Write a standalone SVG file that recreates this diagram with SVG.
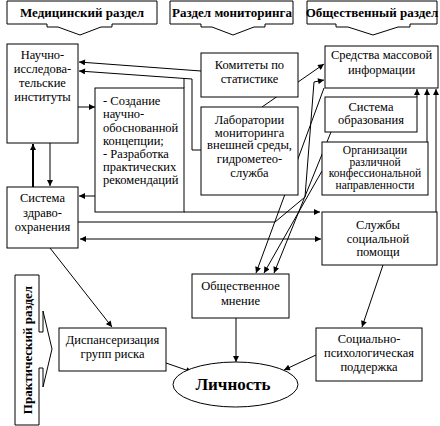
<svg xmlns="http://www.w3.org/2000/svg" width="440" height="426" viewBox="0 0 440 426" font-family="Liberation Serif, DejaVu Serif, serif">
<defs>
<style>
.b{fill:#fff;stroke:#000;stroke-width:1}
.t{font-family:"Liberation Serif",serif;font-size:12.5px;fill:#000;text-anchor:middle}
.s{font-size:11.5px}
.tl{font-family:"Liberation Serif",serif;font-size:12.5px;fill:#000}
.h{font-family:"Liberation Serif",serif;font-size:13px;font-weight:bold;fill:#000;text-anchor:middle}
.c{fill:none;stroke:#000;stroke-width:1;marker-end:url(#a)}
.n{fill:none;stroke:#000;stroke-width:1}
</style>
<marker id="a" viewBox="0 0 10 10" refX="10" refY="5" markerWidth="7" markerHeight="6" markerUnits="userSpaceOnUse" orient="auto-start-reverse">
<path d="M0,0 L10,5 L0,10 Z" fill="#000"/>
</marker>
</defs>
<rect width="440" height="426" fill="#fff"/>

<g id="hdr-med">
<path class="b" d="M7,1 H157 V24 H112 V27 H101 L80,35 L58,27 H47 V24 H7 Z"/>
<text class="h" x="82" y="17">Медицинский раздел</text>
</g>
<g id="hdr-mon">
<path class="b" d="M170,1 H293 V24 H265 V27 H254 L233,35 L212,27 H201 V24 H170 Z"/>
<text class="h" x="232" y="17">Раздел мониторинга</text>
</g>
<g id="hdr-soc">
<path class="b" d="M307,1 H437 V24 H410 V27 H398 L373,35 L348,27 H336 V24 H307 Z"/>
<text class="h" x="372" y="17">Общественный раздел</text>
</g>
<g id="hdr-prac">
<path class="b" d="M15,275 H39 V332 H43 V311 L52,349 L43,387 V368 H39 V425 H15 Z"/>
<text class="h" transform="translate(31.5,350) rotate(-90)" x="0" y="0">Практический раздел</text>
</g>

<g id="connectors">
<path class="c" d="M201,71 L79,62"/>
<path class="c" d="M201,150 H192 V79 L79,71"/>
<path class="n" d="M184,88 V78"/>
<path class="c" d="M184,212 H320"/>
<path class="c" d="M78,107 H95"/>
<path class="c" d="M95,196 H79"/>
<path class="c" d="M33,187 V144" style="stroke-width:2"/>
<path class="c" d="M50,143 V186"/>
<path class="c" d="M78,222 H275 L305,197 L314,82 L324,80"/>
<path class="c" d="M80,239 H321" style="marker-start:url(#a)"/>
<path class="c" d="M262,107 L324,64"/>
<path class="c" d="M324,88 L256,273"/>
<path class="c" d="M322,171 L264,273"/>
<path class="c" d="M331,132 L274,273"/>
<path class="c" d="M417,97 V89"/>
<path class="c" d="M427,142 V89"/>
<path class="c" d="M436,212 V89"/>
<path class="c" d="M50,248 L112,327"/>
<path class="c" d="M166,363 L192,372"/>
<path class="c" d="M236,318 V362"/>
<path class="c" d="M383,265 L362,327"/>
<path class="c" d="M316,355 L284,370"/>
</g>

<g id="nii">
<rect class="b" x="7" y="44" width="71" height="99"/>
<text class="t" x="42.5" y="59">Научно-</text>
<text class="t" x="42.5" y="73">исследова-</text>
<text class="t" x="42.5" y="87">тельские</text>
<text class="t" x="42.5" y="101">институты</text>
</g>
<g id="zdrav">
<rect class="b" x="7" y="187" width="71" height="61"/>
<text class="t" x="42.5" y="202">Система</text>
<text class="t" x="42.5" y="216.5">здраво-</text>
<text class="t" x="42.5" y="231">охранения</text>
</g>
<g id="concept">
<rect class="b" x="95" y="88" width="89" height="124"/>
<text class="tl" x="103" y="105">- Создание</text>
<text class="tl" x="103" y="118">научно-</text>
<text class="tl" x="103" y="131.5">обоснованной</text>
<text class="tl" x="103" y="145">концепции;</text>
<text class="tl" x="103" y="158">- Разработка</text>
<text class="tl" x="103" y="171">практических</text>
<text class="tl" x="103" y="184">рекомендаций</text>
</g>
<g id="komitety">
<rect class="b" x="201" y="53" width="97" height="44"/>
<text class="t" x="249.5" y="69">Комитеты  по</text>
<text class="t" x="249.5" y="83">статистике</text>
</g>
<g id="lab">
<rect class="b" x="201" y="107" width="97" height="88"/>
<text class="t" x="249.5" y="124">Лаборатории</text>
<text class="t" x="249.5" y="136.5">мониторинга</text>
<text class="t" x="249.5" y="149">внешней среды,</text>
<text class="t" x="249.5" y="163">гидрометео-</text>
<text class="t" x="249.5" y="176.5">служба</text>
</g>
<g id="smi">
<rect class="b" x="325" y="46" width="113" height="42"/>
<text class="t" x="381.5" y="59">Средства  массовой</text>
<text class="t" x="381.5" y="73.5">информации</text>
</g>
<g id="obraz">
<rect class="b" x="325" y="97" width="92" height="35"/>
<text class="t" x="371" y="111">Система</text>
<text class="t" x="371" y="123.5">образования</text>
</g>
<g id="org">
<rect class="b" x="322" y="142" width="106" height="53"/>
<text class="t s" x="375" y="154">Организации</text>
<text class="t s" x="375" y="165.5">различной</text>
<text class="t s" x="375" y="177">конфессиональной</text>
<text class="t s" x="375" y="188.5">направленности</text>
</g>
<g id="sluzhby">
<rect class="b" x="322" y="212" width="115" height="53"/>
<text class="t" x="378" y="229">Службы</text>
<text class="t" x="378" y="242.5">социальной</text>
<text class="t" x="378" y="256">помощи</text>
</g>
<g id="mnenie">
<rect class="b" x="192" y="274" width="97" height="44"/>
<text class="t" x="240.5" y="290">Общественное</text>
<text class="t" x="240.5" y="305">мнение</text>
</g>
<g id="disp">
<rect class="b" x="59" y="328" width="107" height="43"/>
<text class="t" x="112.5" y="344">Диспансеризация</text>
<text class="t" x="112.5" y="358">групп  риска</text>
</g>
<g id="socpsy">
<rect class="b" x="316" y="328" width="106" height="53"/>
<text class="t" x="369" y="343">Социально-</text>
<text class="t" x="369" y="357">психологическая</text>
<text class="t" x="369" y="371">поддержка</text>
</g>
<g id="lichnost">
<ellipse class="b" cx="235.5" cy="384.5" rx="62.5" ry="22.5"/>
<text class="h" x="233" y="390" style="font-size:17px">Личность</text>
</g>
</svg>
